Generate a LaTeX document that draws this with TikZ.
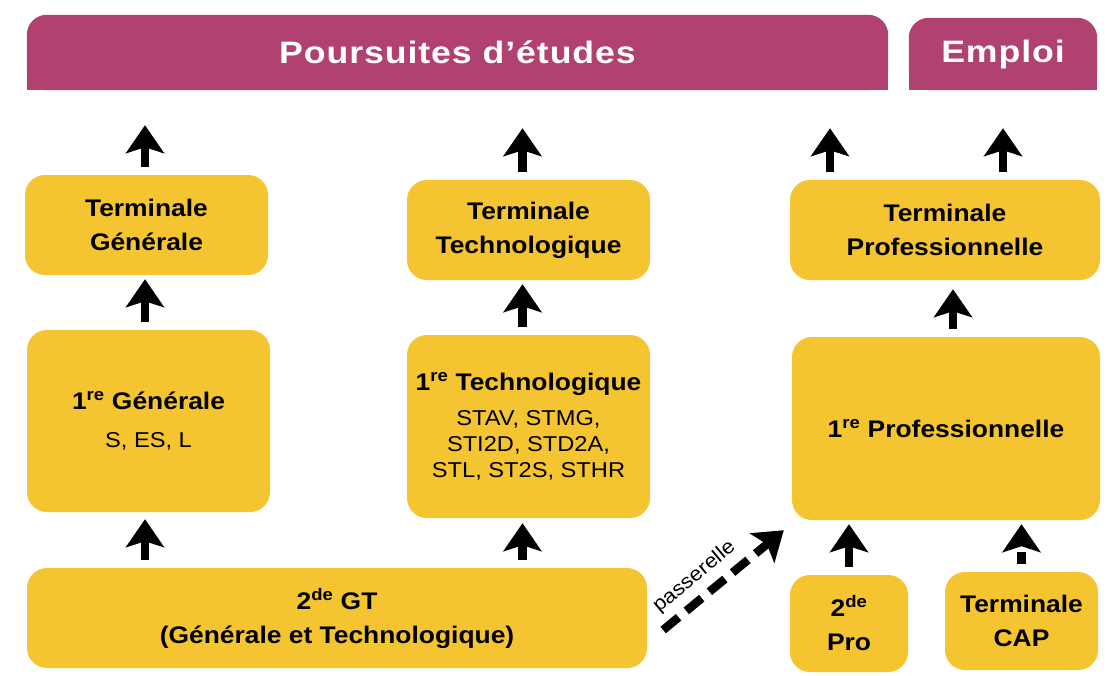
\documentclass[tikz,border=0pt]{standalone}
\usepackage{fontspec}
\setmainfont{Liberation Sans}[FakeStretch=1.1]
\newfontfamily\headfont{Liberation Sans}[FakeStretch=1.15,LetterSpace=3]
\usetikzlibrary{arrows.meta,backgrounds}
\definecolor{headpink}{HTML}{B04170}
\definecolor{boxyellow}{HTML}{F5C431}
\tikzset{
    box/.style={fill=boxyellow, rounded corners=20pt, align=center, inner sep=0pt,
        font=\fontsize{24}{34}\selectfont\bfseries},
    headbox/.style={inner sep=0pt, text=white, font=\headfont\fontsize{31}{34}\selectfont\bfseries},
    uparrow/.style={line width=8.5pt, -{Stealth[width=38pt,length=28pt,inset=6pt]}, shorten <=8pt},
    dasharrow/.style={uparrow, dash pattern=on 12pt off 6pt}
}
\newcommand{\boxsubfont}{\normalfont\fontsize{21.5}{26}\selectfont}
\newcommand{\drawUpArrow}[3]{
    \draw[uparrow, shorten >=#3] (#1) -- (#2)
}

\begin{document}
\begin{tikzpicture}[x=1pt, y=-1pt]
            \useasboundingbox (0,0) rectangle (1113,675);

            % en-tetes
            \node[headbox, minimum width=861, minimum height=75] (pe) at (457.5,52.5) {Poursuites d’études};
            \node[headbox, minimum width=188, minimum height=72] (em) at (1003,54) {Emploi};
            \begin{scope}[on background layer]
                \fill[headpink, rounded corners=20pt] (pe.north west) rectangle (pe.south east);
                \fill[headpink] (pe.west) rectangle (pe.south east);
                \fill[headpink, rounded corners=20pt] (em.north west) rectangle (em.south east);
                \fill[headpink] (em.west) rectangle (em.south east);
            \end{scope}

            % voie generale
            \node[box, minimum width=243, minimum height=182] (g1) at (148.5,421) {1\textsuperscript{re} Générale\\[4pt]\boxsubfont S, ES, L};
            \node[box, minimum width=243, minimum height=100] (tg) at (146.5,225) {Terminale\\Générale};
            \node[box, minimum width=620, minimum height=100] (gt) at (337,618) {2\textsuperscript{de} GT\\(Générale et Technologique)};

            % voie technologique
            \node[box, minimum width=243, minimum height=100] (tt) at (528.5,230) {Terminale\\Technologique};
            \node[box, minimum width=243, minimum height=183] (t1) at (528.5,426.5) {1\textsuperscript{re} Technologique\\[1pt]\boxsubfont STAV, STMG,\\[-8pt]\boxsubfont STI2D, STD2A,\\[-8pt]\boxsubfont STL, ST2S, STHR};

            % voie professionnelle
            \node[box, minimum width=310, minimum height=100] (tp) at (945,230) {Terminale\\Professionnelle};
            \node[box, minimum width=308, minimum height=183] (p1) at (946,428.5) {1\textsuperscript{re} Professionnelle};
            \node[box, minimum width=118, minimum height=97] (dp) at (849,623.5) {2\textsuperscript{de}\\Pro};
            \node[box, minimum width=153, minimum height=98] (cap) at (1021.5,621) {Terminale\\CAP};

            \drawUpArrow{[xshift=-1.5pt]tg.north}{[xshift=-1.5pt]tg.north |- pe.south}{35pt};
            \drawUpArrow{[xshift=-3.5pt]g1.north}{[xshift=-1.5pt]tg.south}{4pt};
            \drawUpArrow{[xshift=-3.5pt]gt.north -| g1.south}{[xshift=-3.5pt]g1.south}{7pt};

            \drawUpArrow{[xshift=-6pt]tt.north}{[xshift=-6pt]tt.north |- pe.south}{38pt};
            \drawUpArrow{[xshift=-6pt]t1.north}{[xshift=-6pt]tt.south}{4pt};
            \drawUpArrow{[xshift=-6pt]gt.north -| t1.south}{[xshift=-6pt]t1.south}{5pt};

            \drawUpArrow{[xshift=-115pt]tp.north}{[xshift=-115pt]tp.north |- pe.south}{38pt};
            \drawUpArrow{tp.north -| em.south}{em.south}{38pt};
            \drawUpArrow{[xshift=7pt]p1.north}{[xshift=8pt]tp.south}{9pt};
            \drawUpArrow{dp.north}{dp.north |- p1.south}{4pt};
            \draw[dasharrow, shorten >=4pt] (cap.north) -- (cap.north |- p1.south);

            % passerelle
            \draw[dasharrow, dash pattern=on 20pt off 10pt, shorten <=0pt]
                ([xshift=16pt,yshift=-12pt]gt.east) -- ([xshift=-8pt,yshift=-10pt]p1.south west)
                node[pos=0.37, sloped, above=4pt, font=\fontsize{20}{22}\selectfont] {passerelle};
        \end{tikzpicture}
\end{document}
